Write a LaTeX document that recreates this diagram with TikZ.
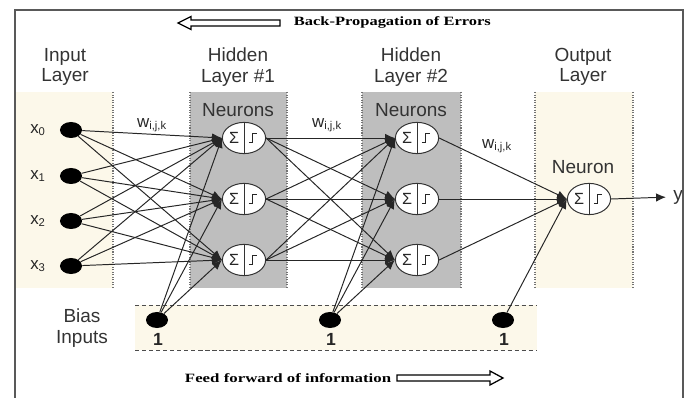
\documentclass[tikz,border=0pt]{standalone}
\usepackage{fontspec}
\setmainfont{Liberation Sans}
\newfontfamily\notefont{Liberation Serif}
\usetikzlibrary{shapes.geometric, arrows.meta, calc}
\definecolor{bandcream}{HTML}{FCF8EA}
\definecolor{boxgray}{HTML}{BEBEBE}
\tikzset{
    band_cream/.style={fill=bandcream, draw=none},
    band_gray/.style={fill=boxgray, draw=none},
    band_edge/.style={draw=black!55, densely dotted, line width=0.8pt},
    bias_edge/.style={draw=black!70, densely dashed, line width=0.6pt},
    layer_lbl/.style={font=\fontsize{13.5}{14.5}\selectfont, text=black!80, align=center},
    small_lbl/.style={font=\fontsize{12}{13}\selectfont, text=black!85},
    note_lbl/.style={font=\notefont\bfseries\fontsize{9}{10}\selectfont, anchor=west},
    in_dot/.style={ellipse, fill=black, minimum width=0.55cm, minimum height=0.4cm, inner sep=0pt},
    neuron/.style={
        ellipse, draw=black!80, fill=white, line width=0.7pt,
        minimum width=1.08cm, minimum height=0.78cm, inner sep=0pt,
        path picture={
            \draw[black!80, line width=0.7pt] (path picture bounding box.north) -- (path picture bounding box.south);
            \node[font=\fontsize{11.5}{11.5}\selectfont, inner sep=0pt, text=black!85]
                at ($(path picture bounding box.center)+(-0.25cm,0cm)$) {Σ};
            \draw[black!85, line width=0.8pt] ($(path picture bounding box.center)+(0.12cm,-0.11cm)$)
                -- ++(0.1cm,0cm) -- ++(0cm,0.22cm) -- ++(0.1cm,0cm);
        }
    },
    conn_arrow/.style={-{Latex[length=7pt, width=6pt]}, draw=black!85, line width=0.7pt},
    hollow_arrow/.style={draw=black, line width=0.9pt, fill=white}
}

\begin{document}
\begin{tikzpicture}[x=0.025cm, y=-0.025cm]
    \useasboundingbox (0,0) rectangle (694,398);

    % layer bands
    \fill[band_cream] (15,92) rectangle (113,288);
    \fill[band_gray] (190,92) rectangle (287,288);
    \fill[band_gray] (362,92) rectangle (461,288);
    \fill[band_cream] (535,92) rectangle (633,288);
    \fill[band_cream] (135,305) rectangle (537,350);
    \foreach \xe in {113,190,287,362,461,535,633}
        \draw[band_edge] (\xe,92) -- (\xe,288);
    \draw[bias_edge] (135,305) -- (537,305);
    \draw[bias_edge] (135,350) -- (537,350);

    % headings
    \node[layer_lbl] (lbl_in) at (65,67) {Input\\Layer};
    \node[layer_lbl] (lbl_h1) at (238,67) {Hidden\\Layer \#1};
    \node[layer_lbl] (lbl_h2) at (411,67) {Hidden\\Layer \#2};
    \node[layer_lbl] (lbl_out) at (583,67) {Output\\Layer};
    \node[layer_lbl] (lbl_n1) at (238,110) {Neurons};
    \node[layer_lbl] (lbl_n2) at (411,110) {Neurons};
    \node[layer_lbl] (lbl_n3) at (583,167) {Neuron};
    \node[layer_lbl] (lbl_bias) at (82,328) {Bias\\Inputs};

    % inputs
    \node[in_dot] (in0) at (71,130) {};
    \node[in_dot] (in1) at (71,176) {};
    \node[in_dot] (in2) at (71,221) {};
    \node[in_dot] (in3) at (71,266) {};
    \node[small_lbl] (lx0) at (38,130) {x\textsubscript{0}};
    \node[small_lbl] (lx1) at (38,176) {x\textsubscript{1}};
    \node[small_lbl] (lx2) at (38,221) {x\textsubscript{2}};
    \node[small_lbl] (lx3) at (38,266) {x\textsubscript{3}};

    % neurons
    \node[neuron] (ha1) at (244,138) {};
    \node[neuron] (ha2) at (244,199) {};
    \node[neuron] (ha3) at (244,260) {};
    \node[neuron] (hb1) at (417,138) {};
    \node[neuron] (hb2) at (417,199) {};
    \node[neuron] (hb3) at (417,260) {};
    \node[neuron] (out) at (589,199) {};

    % bias inputs
    \node[in_dot] (b1) at (157,320) {};
    \node[in_dot] (b2) at (330,320) {};
    \node[in_dot] (b3) at (503,320) {};
    \node[small_lbl, font=\fontsize{12.5}{12.5}\selectfont\bfseries] (lb1) at (158,339) {1};
    \node[small_lbl, font=\fontsize{12.5}{12.5}\selectfont\bfseries] (lb2) at (331,339) {1};
    \node[small_lbl, font=\fontsize{12.5}{12.5}\selectfont\bfseries] (lb3) at (504,339) {1};

    % weights
    \node[small_lbl] (w1) at (152,125) {w\textsubscript{i,j,k}};
    \node[small_lbl] (w2) at (327,125) {w\textsubscript{i,j,k}};
    \node[small_lbl] (w3) at (497,146) {w\textsubscript{i,j,k}};
    \node[layer_lbl, inner sep=2pt] (ylbl) at (678,197) {y};

    % connections
    \foreach \i in {0,...,3}
        \foreach \j in {1,2,3}
            \draw[conn_arrow] (in\i) -- (ha\j.west);
    \foreach \i in {1,2,3}
        \foreach \j in {1,2,3}
            \draw[conn_arrow] (ha\i.east) -- (hb\j.west);
    \foreach \j in {1,2,3} {
        \draw[conn_arrow] (b1) -- (ha\j.west);
        \draw[conn_arrow] (b2) -- (hb\j.west);
        \draw[conn_arrow] (hb\j.east) -- (out.west);
    }
    \draw[conn_arrow] (b3) -- (out.west);
    \draw[conn_arrow, shorten >=3pt] (out.east) -- (ylbl.west);

    % direction notes
    \draw[hollow_arrow] (178,23) -- (191,16.5) -- (191,20) -- (280,20) -- (280,26) -- (191,26) -- (191,29.5) -- cycle;
    \node[note_lbl] (bp) at (289,22) {\scalebox{1.3}[1]{Back-Propagation of Errors}};
    \node[note_lbl] (ff) at (180,378) {\scalebox{1.33}[1]{Feed forward of information}};
    \draw[hollow_arrow] (503,378) -- (490,371) -- (490,375) -- (397,375) -- (397,381) -- (490,381) -- (490,385) -- cycle;

    % frame
    \draw[black!65, line width=0.9pt] (15,398) -- (15,10) -- (683,10) -- (683,398);
\end{tikzpicture}
\end{document}
